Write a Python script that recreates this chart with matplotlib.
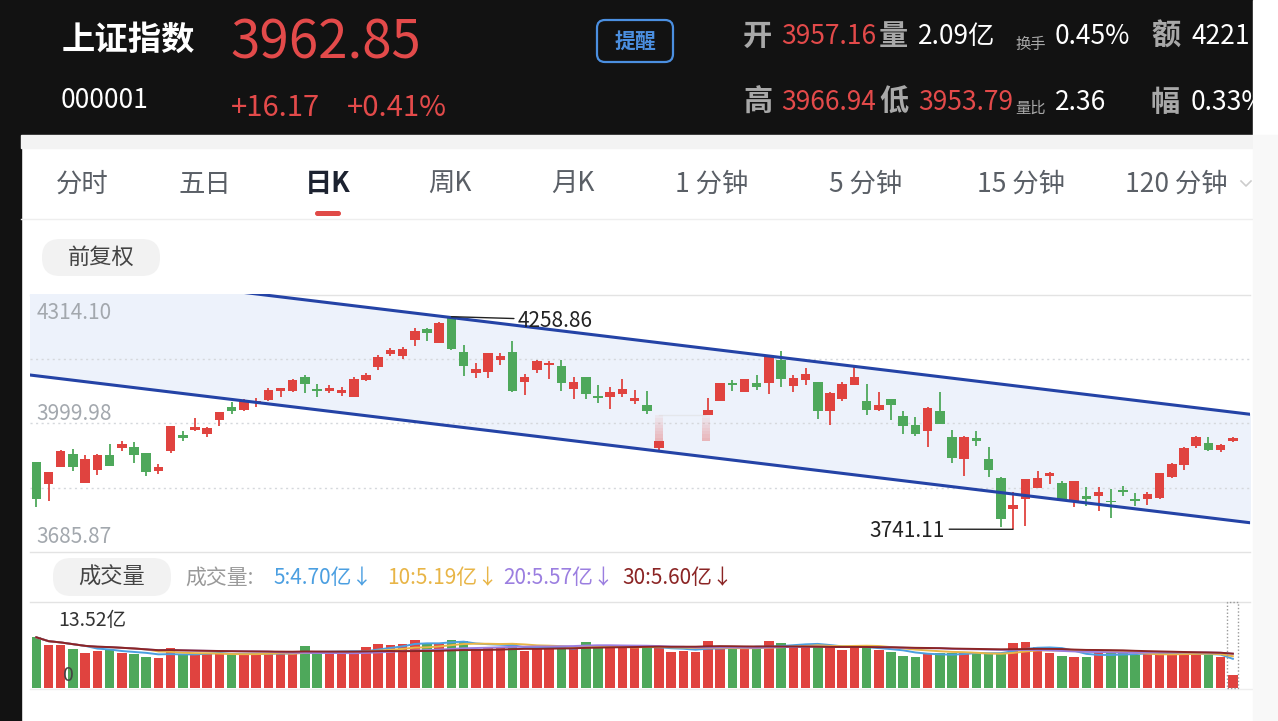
import numpy as np
import pandas as pd
import matplotlib
matplotlib.use('Agg')
import matplotlib.pyplot as plt
from matplotlib.patches import Rectangle, FancyBboxPatch

plt.rcParams['font.family'] = ['Noto Sans CJK SC', 'DejaVu Sans']

# DATA (daily K, 上证指数)  nan = candle hidden in the screenshot
nan = np.nan
opens = [3904.3, 3851.4, 3893.6, 3924.5, 3853.9, 3886.3, 3922.8, 3939.1, 3940.8, 3926.9,
         3882.4, 3932.5, 3970.0, 3982.9, 3973.2, 4007.3, 4038.2, 4031.6, 4048.0, 4056.0,
         4078.6, 4077.2, 4111.3, 4082.8, 4077.2, 4073.0, 4064.0, 4104.7, 4135.6, 4168.0,
         4163.9, 4202.8, 4229.6, 4194.8, 4258.86, 4173.6, 4121.0, 4124.9, 4154.1, 4173.6,
         4099.1, 4129.0, 4141.2, 4139.5, 4082.8, 4111.3, 4066.5, 4062.6, 4070.6, 4052.8,
         4044.5, 3939.1, nan, nan, nan, 4020.2, 4054.3, 4096.7, 4076.2, 4096.7,
         4096.7, 4153.4, 4090.8, 4104.7, 4099.1, 4029.9, 4058.4, 4092.5, 4052.8, 4032.4,
         4058.4, 4017.8, 3995.8, 3979.8, 4029.9, 3965.2, 3912.3, 3962.7, 3912.3, 3866.1,
         3790.6, 3814.9, 3841.7, 3870.2, 3853.1, 3809.3, 3823.0, 3823.0, 3810.8, 3836.8,
         3814.9, 3814.9, 3817.4, 3867.8, 3898.4, 3944.7, 3950.6, 3935.0, 3957.16]
highs = [3904.3, 3881.0, 3934.2, 3936.7, 3922.8, 3924.5, 3948.8, 3956.9, 3953.0, 3926.9,
         3900.1, 3993.4, 3979.8, 4012.2, 3991.0, 4026.8, 4050.4, 4058.4, 4060.9, 4084.5,
         4085.2, 4107.1, 4116.9, 4094.9, 4092.5, 4088.4, 4111.3, 4121.0, 4166.3, 4182.6,
         4184.3, 4230.6, 4231.3, 4245.2, 4258.86, 4190.6, 4145.4, 4170.4, 4169.7, 4200.4,
         4119.3, 4153.4, 4151.7, 4153.4, 4111.3, 4112.0, 4093.2, 4088.4, 4107.1, 4080.3,
         4078.6, 3956.9, nan, nan, nan, 4060.9, 4098.0, 4104.7, 4108.3, 4117.6,
         4166.3, 4174.6, 4117.6, 4133.9, 4099.8, 4075.5, 4099.1, 4139.5, 4094.9, 4074.7,
         4058.4, 4028.5, 4015.3, 4038.9, 4074.7, 3982.9, 3968.3, 3981.2, 3940.8, 3868.5,
         3831.2, 3864.8, 3883.8, 3879.9, 3859.5, 3858.8, 3844.9, 3844.9, 3839.3, 3847.3,
         3828.8, 3832.7, 3879.4, 3902.5, 3941.6, 3969.1, 3966.6, 3948.8, 3966.94]
lows = [3796.2, 3809.3, 3892.9, 3882.4, 3853.9, 3874.1, 3894.6, 3931.1, 3901.9, 3871.7,
        3875.8, 3926.9, 3955.4, 3981.2, 3966.6, 3993.4, 4021.9, 4029.9, 4039.7, 4054.3,
        4064.0, 4075.5, 4073.0, 4064.0, 4072.3, 4066.5, 4064.0, 4101.5, 4129.8, 4163.9,
        4155.8, 4186.7, 4200.4, 4194.8, 4178.0, 4115.2, 4109.6, 4109.6, 4141.2, 4076.2,
        4068.9, 4121.0, 4107.1, 4078.6, 4058.4, 4058.4, 4048.0, 4034.1, 4062.6, 4046.2,
        4021.9, 3932.5, nan, nan, nan, 4020.2, 4052.8, 4078.6, 4075.5, 4080.3,
        4070.6, 4086.9, 4076.2, 4093.2, 4009.7, 3995.1, 4052.8, 4092.5, 4020.2, 4028.5,
        4007.3, 3973.2, 3969.1, 3940.8, 3997.5, 3901.9, 3870.2, 3944.7, 3869.2, 3746.0,
        3741.11, 3749.2, 3841.7, 3851.4, 3814.9, 3794.7, 3798.6, 3785.0, 3768.7, 3823.0,
        3798.6, 3800.3, 3814.9, 3866.1, 3886.3, 3939.1, 3931.1, 3928.6, 3953.79]
closes = [3814.9, 3879.9, 3932.5, 3892.1, 3912.3, 3922.1, 3894.6, 3948.8, 3922.1, 3881.4,
          3893.6, 3993.4, 3963.5, 3989.5, 3987.8, 4026.0, 4028.5, 4054.3, 4052.8, 4081.1,
          4084.5, 4105.4, 4094.9, 4078.6, 4085.2, 4081.1, 4107.1, 4116.9, 4160.0, 4178.5,
          4180.2, 4224.7, 4218.4, 4242.8, 4180.2, 4138.0, 4131.5, 4169.7, 4163.9, 4078.6,
          4112.7, 4151.7, 4146.1, 4096.7, 4099.1, 4070.6, 4060.9, 4074.7, 4082.8, 4060.9,
          4028.5, 3956.9, nan, nan, nan, 4031.6, 4096.7, 4091.8, 4107.1, 4088.4,
          4161.4, 4107.1, 4109.6, 4119.3, 4029.9, 4073.0, 4094.9, 4112.7, 4031.6, 4043.8,
          4043.8, 3993.4, 3973.2, 4036.5, 3997.5, 3914.8, 3966.6, 3956.9, 3885.5, 3766.2,
          3800.3, 3863.6, 3866.1, 3877.5, 3814.9, 3858.0, 3814.9, 3831.2, 3806.9, 3831.2,
          3809.3, 3827.1, 3877.5, 3900.1, 3939.1, 3966.6, 3935.0, 3946.4, 3962.85]
# volume, 亿
volumes = [7.97, 6.76, 6.76, 6.08, 5.55, 5.82, 6.08, 5.55, 5.35, 4.82,
           4.66, 6.24, 5.35, 5.35, 5.35, 5.35, 5.35, 5.35, 5.45, 5.45,
           5.45, 5.45, 6.6, 5.45, 5.55, 5.65, 5.65, 6.5, 6.9, 6.76,
           6.9, 7.55, 7.0, 6.9, 7.55, 7.44, 6.13, 6.4, 6.5, 7.13,
           5.87, 6.13, 6.5, 6.13, 6.24, 7.28, 6.5, 6.5, 6.24, 6.4,
           6.5, 6.4, 5.7, 5.87, 5.6, 7.4, 6.5, 6.08, 6.08, 6.4,
           7.4, 7.0, 6.76, 6.76, 6.76, 6.5, 5.97, 6.5, 6.4, 5.97,
           5.7, 5.03, 4.82, 5.45, 5.45, 5.45, 5.55, 5.55, 5.3, 5.55,
           7.0, 7.28, 6.5, 5.55, 5.03, 4.93, 4.82, 5.7, 5.45, 5.45,
           5.19, 5.45, 5.45, 5.45, 5.35, 5.35, 5.19, 4.93, 2.09]
price_top, price_bottom = 4314.10, 3685.87
price_labels = ['4314.10', '3999.98', '3685.87']
vol_top = 13.52
# channel lines: value at candle 0 and candle 98
ch_x = [0, 98]
ch_upper = [4379.1, 4026.3]
ch_lower = [4115.0, 3762.2]
ma_periods = [5, 10, 20, 30]
ma_colors = ['#4b9fe1', '#e8b547', '#9b7ee0', '#8b2525']
ma_labels = ['5:4.70亿↓', '10:5.19亿↓', '20:5.57亿↓', '30:5.60亿↓']
ma_label_x = [273, 387, 503, 622]
tabs = ['分时', '五日', '日K', '周K', '月K', '1 分钟', '5 分钟', '15 分钟', '120 分钟']
tab_x = [82, 205, 328, 450, 573, 712, 866, 1021, 1176]

RED = '#e0433f'
GREEN = '#4ea85b'
HRED = '#e34a4a'

W, H = 1278, 721
fig = plt.figure(figsize=(W / 100, H / 100), dpi=100)
fig.patch.set_facecolor('white')


def rect(x0, y0, x1, y1):
    return [x0 / W, 1 - y1 / H, (x1 - x0) / W, (y1 - y0) / H]


bg = fig.add_axes([0, 0, 1, 1])
bg.set_xlim(0, W)
bg.set_ylim(H, 0)
bg.axis('off')

# header
bg.add_patch(Rectangle((0, 0), 1253, 135, color='#121212', zorder=0))
bg.add_patch(Rectangle((0, 0), 21, H, color='#121212', zorder=0))
bg.add_patch(Rectangle((21, 135), 1232, 13, color='#f3f3f3', zorder=0))
bg.text(62, 40, '上证指数', color='white', fontsize=24, fontweight='bold', va='center')
bg.text(230, 43, '3962.85', color=HRED, fontsize=38, fontweight='medium', va='center')
bg.text(61, 100, '000001', color='white', fontsize=19, fontweight='medium', va='center')
bg.text(231, 108, '+16.17', color=HRED, fontsize=21, fontweight='medium', va='center')
bg.text(347, 108, '+0.41%', color=HRED, fontsize=21, fontweight='medium', va='center')
bg.add_patch(FancyBboxPatch((597, 20), 76, 42, boxstyle='round,pad=0,rounding_size=8',
                            fc='none', ec='#4b8fe0', lw=1.6))
bg.text(635, 41, '提醒', color='#4b8fe0', fontsize=15, fontweight='bold', ha='center', va='center')

GR = '#a8a8a8'
row1 = [(743, '开', GR, 21, 'bold'), (781, '3957.16', HRED, 19, 'medium'),
        (879, '量', GR, 21, 'bold'), (918, '2.09亿', 'white', 19, 'medium'),
        (1055, '0.45%', 'white', 19, 'medium'), (1151, '额', GR, 21, 'bold'),
        (1191, '4221', 'white', 19, 'medium')]
row2 = [(743, '高', GR, 21, 'bold'), (781, '3966.94', HRED, 19, 'medium'),
        (879, '低', GR, 21, 'bold'), (918, '3953.79', HRED, 19, 'medium'),
        (1055, '2.36', 'white', 19, 'medium'), (1151, '幅', GR, 21, 'bold'),
        (1191, '0.33%', 'white', 19, 'medium')]
for x, s, c, fs, fw in row1:
    bg.text(x, 36, s, color=c, fontsize=fs, fontweight=fw, va='center')
for x, s, c, fs, fw in row2:
    bg.text(x, 102, s, color=c, fontsize=fs, fontweight=fw, va='center')
bg.text(1015, 44, '换手', color=GR, fontsize=11, va='center')
bg.text(1015, 108, '量比', color=GR, fontsize=11, va='center')

# tabs
for x, s in zip(tab_x, tabs):
    if s == '日K':
        bg.text(x, 184, s, color='#1c2230', fontsize=19.5, fontweight='bold', ha='center', va='center')
    else:
        bg.text(x, 184, s, color='#5a5f66', fontsize=19, fontweight='medium', ha='center', va='center')
bg.add_patch(FancyBboxPatch((315, 211), 26, 5, boxstyle='round,pad=0,rounding_size=2.5',
                            fc='#e04a47', ec='none'))
bg.plot([1241, 1246, 1251], [181, 186, 181], color='#cccccc', lw=1.2)
bg.plot([21, 1253], [218.5, 218.5], color='#eeeeee', lw=1)

bg.add_patch(FancyBboxPatch((42, 239), 118, 37, boxstyle='round,pad=0,rounding_size=18',
                            fc='#f2f2f2', ec='none'))
bg.text(101, 257, '前复权', color='#444444', fontsize=16, fontweight='medium', ha='center', va='center')

# panel separators
for yy in (294.5, 551.5, 602):
    bg.plot([30, 1250], [yy, yy], color='#e3e3e3', lw=1)
bg.plot([30, 1252], [688.5, 688.5], color='#eeeeee', lw=1)

# volume header
bg.add_patch(FancyBboxPatch((53, 558), 118, 38, boxstyle='round,pad=0,rounding_size=18',
                            fc='#f2f2f2', ec='none'))
bg.text(112, 577, '成交量', color='#444444', fontsize=16, fontweight='medium', ha='center', va='center')
bg.text(185, 578, '成交量:', color='#999999', fontsize=15, fontweight='medium', va='center')
for x, s, c in zip(ma_label_x, ma_labels, ma_colors):
    bg.text(x, 578, s, color=c, fontsize=15, fontweight='medium', va='center')

# right strip covering clipped header text
bg.add_patch(Rectangle((1253, 0), W - 1253, 135, color='white', zorder=10))
bg.add_patch(Rectangle((1253, 135), W - 1253, H - 135, color='#f8f8f8', zorder=10))

# ---- price panel
o = np.array(opens, float)
h = np.array(highs, float)
l = np.array(lows, float)
c = np.array(closes, float)
v = np.array(volumes, float)
idx = np.arange(len(o))
up = ~(c < o)
colors = np.where(up, RED, GREEN)

x_lo = (30 - 36.3) / 12.21
x_hi = (1250 - 36.3) / 12.21

ax = fig.add_axes(rect(30, 294, 1250, 552))
ax.set_xlim(x_lo, x_hi)
ax.set_ylim(price_bottom, price_top)
ax.patch.set_alpha(0)
for s in ax.spines.values():
    s.set_visible(False)
ax.set_xticks([])
ax.set_yticks([])

xs = np.array([x_lo - 2, x_hi + 2])
k_up = (ch_upper[1] - ch_upper[0]) / (ch_x[1] - ch_x[0])
k_lo = (ch_lower[1] - ch_lower[0]) / (ch_x[1] - ch_x[0])
up_line = ch_upper[0] + k_up * (xs - ch_x[0])
lo_line = ch_lower[0] + k_lo * (xs - ch_x[0])
ax.fill_between(xs, lo_line, up_line, color='#edf2fb', zorder=0)

grid = np.linspace(price_bottom, price_top, 5)
for g in grid[1:-1]:
    ax.axhline(g, color='#d5d8dc', lw=1, ls=(0, (1.5, 2.5)), zorder=1)

ax.plot(xs, up_line, color='#2443a6', lw=2.2, zorder=5)
ax.plot(xs, lo_line, color='#2443a6', lw=2.2, zorder=5)

body_lo = np.minimum(o, c)
body_h = np.maximum(np.abs(c - o), 3.0)
ax.vlines(idx, l, h, colors=colors, lw=1.3, zorder=3)
ax.bar(idx, body_h, bottom=body_lo, width=0.78, color=colors, zorder=4)

# blurred patch in the screenshot
blur_idx = [51, 55]
blur_top, blur_bottom = 4018.9, 3956.9
steps = 8
edges = np.linspace(blur_bottom, blur_top, steps + 1)
for bi in blur_idx:
    for k in range(steps):
        ax.bar(bi - 0.15 * (bi == 55), edges[k + 1] - edges[k], bottom=edges[k], width=0.7,
               color=RED, alpha=0.32 * (1 - k / steps) + 0.02, lw=0, zorder=2)
ax.plot([blur_idx[0], blur_idx[1] - 0.2], [blur_top, blur_top], color='#dddddd', lw=1, alpha=0.5, zorder=2)

# y labels
lab_kw = dict(xycoords=('axes fraction', 'data'), textcoords='offset points',
              color='#a3a8ae', fontsize=15, va='center', ha='left')
ax.annotate(price_labels[0], xy=(0.0055, grid[4]), xytext=(0, -13.5), **lab_kw)
ax.annotate(price_labels[1], xy=(0.0055, grid[2]), xytext=(0, 6.5), **lab_kw)
ax.annotate(price_labels[2], xy=(0.0055, grid[0]), xytext=(0, 10.8), **lab_kw)

# max / min marks
i_max = int(np.nanargmax(h))
i_min = int(np.nanargmin(l))
ax.annotate(f'{h[i_max]:.2f}', xy=(i_max, h[i_max]), xytext=(48, -3), textcoords='offset points',
            ha='left', va='center', color='#222222', fontsize=15, zorder=6,
            arrowprops=dict(arrowstyle='-', color='#222222', lw=1, shrinkA=1, shrinkB=0,
                            relpos=(0, 0.6)))
ax.annotate(f'{l[i_min]:.2f}', xy=(i_min, l[i_min]), xytext=(-49, -1.5), textcoords='offset points',
            ha='right', va='center', color='#222222', fontsize=15, zorder=6,
            arrowprops=dict(arrowstyle='-', color='#222222', lw=1, shrinkA=1, shrinkB=0,
                            relpos=(1, 0.6)))

# ---- volume panel
vax = fig.add_axes(rect(30, 602, 1250, 688))
vax.set_xlim(x_lo, x_hi)
vax.set_ylim(0, vol_top)
vax.patch.set_alpha(0)
for s in vax.spines.values():
    s.set_visible(False)
vax.set_xticks([])
vax.set_yticks([])
vax.bar(idx, v, width=0.78, color=colors, zorder=2)
vs = pd.Series(v)
for n, col in zip(ma_periods, ma_colors):
    vax.plot(idx, vs.rolling(n, min_periods=1).mean(), color=col, lw=1.4, zorder=3)
vax.add_patch(Rectangle((idx[-1] - 0.45, 0.05), 0.9, vol_top - 0.1, fill=False, ec='#999999',
                        lw=1, ls=(0, (1, 1.5)), zorder=4, clip_on=False))
vax.text(0.023, 0.78, f'{vol_top:.2f}亿', transform=vax.transAxes, color='#333333',
         fontsize=14, fontweight='medium', va='center', ha='left')
vax.text(0.027, 0.15, '0', transform=vax.transAxes, color='#444444', fontsize=14,
         va='center', ha='left', zorder=5)

fig.savefig('out.png', dpi=100)
